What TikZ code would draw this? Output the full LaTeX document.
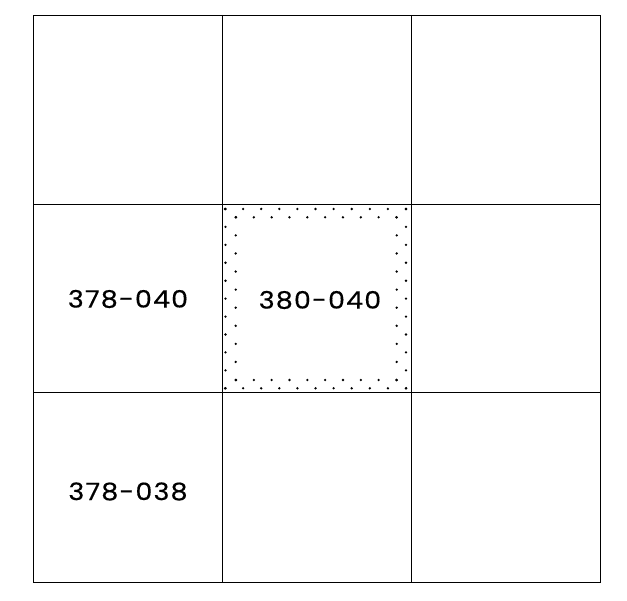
\documentclass[tikz,border=0pt]{standalone}
\usepackage{fontspec}
\setmainfont{Poppins}
\newfontfamily\lblfont[LetterSpace=5,FakeStretch=1.12,FakeBold=0.4]{Poppins}
\begin{document}
\begin{tikzpicture}[x=1pt,y=-1pt,
  gridline/.style={line width=0.9pt},
  lbl/.style={font=\lblfont\fontsize{24}{24}\selectfont, inner sep=0pt},
  dotmark/.style={fill=black}]
\useasboundingbox (0,0) rectangle (627,601);
\draw[gridline] (33,15) rectangle (600,582);
\draw[gridline] (222.3,15) -- (222.3,582);
\draw[gridline] (411.3,15) -- (411.3,582);
\draw[gridline] (33,204.7) -- (600,204.7);
\draw[gridline] (33,392.3) -- (600,392.3);
% outer ring of dots
\foreach \i in {0,...,10} {
  \fill[dotmark] (225+\i*18.1,209) circle (1.3);
  \fill[dotmark] (225+\i*18.1,388.3) circle (1.3);
  \fill[dotmark] (225.5,209+\i*17.93) circle (1.3);
  \fill[dotmark] (406,209+\i*17.93) circle (1.3);
}
% inner ring of dots
\foreach \i in {0,...,9} {
  \fill[dotmark] (236+\i*17.83,217.3) circle (1.3);
  \fill[dotmark] (236+\i*17.83,380) circle (1.3);
  \fill[dotmark] (235.7,217.3+\i*18.08) circle (1.3);
  \fill[dotmark] (396.7,217.3+\i*18.08) circle (1.3);
}
\node[lbl] (a) at (128,299) {378-040};
\node[lbl] (b) at (320,300) {380-040};
\node[lbl] (c) at (128,491.5) {378-038};
\end{tikzpicture}
\end{document}
